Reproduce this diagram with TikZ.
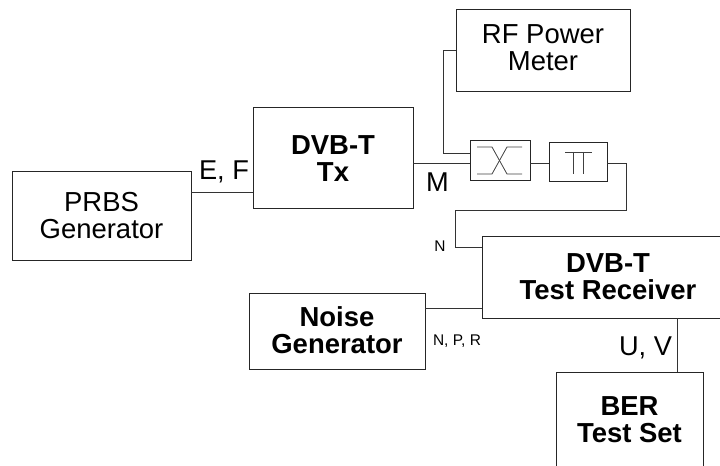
\documentclass[tikz,border=0pt]{standalone}
\usepackage{fontspec}
\setmainfont{Liberation Sans}
\usetikzlibrary{calc}

\begin{document}
\begin{tikzpicture}[
    x=0.75pt, y=-0.75pt,
    box/.style={draw=black!85, line width=0.75pt, inner sep=0pt, outer sep=0pt, align=center, font=\fontsize{20.6}{20}\selectfont},
    boldbox/.style={box, font=\fontsize{20.6}{20}\selectfont\bfseries},
    link/.style={draw=black!80, line width=0.75pt},
    glyph/.style={draw=black!75, line width=0.6pt},
    biglabel/.style={inner sep=0pt, font=\fontsize{20.4}{20}\selectfont},
    smalllabel/.style={inner sep=0pt, font=\fontsize{11.6}{12}\selectfont}
]
\useasboundingbox (0,0) rectangle (720,466);
\clip (0,0) rectangle (720,466);

\node[box, text depth=1.5pt, minimum width=134.25pt, minimum height=66.75pt] (prbs) at (101.5,216.5) {PRBS\\Generator};
\node[boldbox, minimum width=120pt, minimum height=75.75pt] (tx) at (333,158.5) {DVB-T\\Tx};
\node[box, text depth=5.25pt, minimum width=130.5pt, minimum height=61.5pt] (meter) at (543,51) {RF Power\\Meter};
\node[box, minimum width=45pt, minimum height=30pt] (coupler) at (500,161) {};
\node[box, minimum width=43.5pt, minimum height=29.25pt] (filter) at (578,162.5) {};
\node[boldbox, text depth=1.5pt, minimum width=189pt, minimum height=60.75pt] (receiver) at (608,277.5) {DVB-T\\Test Receiver};
\node[boldbox, text depth=2.25pt, minimum width=132pt, minimum height=56.25pt] (noise) at (337,331.5) {Noise\\Generator};
\node[boldbox, minimum width=110.25pt, minimum height=72pt] (ber) at (629.5,420) {BER\\Test Set};

\coordinate (ef) at ($(prbs.east)+(0,-23.5)$);
\coordinate (m) at ($(tx.east)+(0,5.5)$);
\coordinate (tap) at ($(coupler.west)+(0,-7)$);
\coordinate (filterout) at (filter.east |- m);
\coordinate (bend) at ($(filterout)+(19,0)$);
\coordinate (rxin) at ($(receiver.west)+(0,-29.5)$);
\coordinate (rxnoise) at ($(receiver.west)+(0,30.5)$);
\coordinate (uv) at ($(receiver.south)+(69,0)$);

\draw[link] (ef) -- (ef -| tx.west);
\draw[link] (m) -- (m -| coupler.west);
\draw[link] (meter.west) -- ++(-13,0) |- (tap);
\draw[link] (m -| coupler.east) -- (m -| filter.west);
\draw[link] (filterout) -- (bend) -- ++(0,47) -| ($(rxin)+(-27,0)$) -- (rxin);
\draw[link] (rxnoise) -- (rxnoise -| noise.east);
\draw[link] (uv) -- (uv |- ber.north);

\draw[glyph] ($(coupler)+(-23,-14)$) -- ++(15,0) -- ++(15,27) -- ++(15,0);
\draw[glyph] ($(coupler)+(-23,13)$) -- ++(15,0) -- ++(15,-27) -- ++(15,0);
\draw[glyph] ($(filter)+(-13,-10.5)$) -- ++(27,0);
\draw[glyph] ($(filter)+(-5,-10.5)$) -- ++(0,22);
\draw[glyph] ($(filter)+(5,-10.5)$) -- ++(0,22);

\node[biglabel] (eflabel) at (224,172) {E, F};
\node[biglabel] (mlabel) at (437.5,182) {M};
\node[biglabel] (uvlabel) at (645.5,348) {U, V};
\node[smalllabel] (nlabel) at (440,246.5) {N};
\node[smalllabel] (nprlabel) at (457,341) {N, P, R};
\end{tikzpicture}
\end{document}
